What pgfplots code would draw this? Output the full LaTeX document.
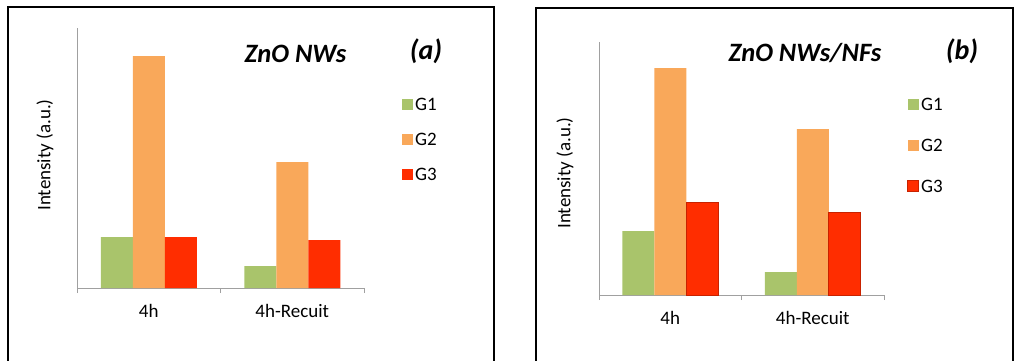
\documentclass[border=0pt]{standalone}
\usepackage{pgfplots}
\pgfplotsset{compat=1.18}
\usepackage{fontspec}
\setmainfont{Carlito}
\definecolor{cG1}{HTML}{A9C46B}
\definecolor{cG2}{HTML}{F9A85A}
\definecolor{cG3}{HTML}{FF2D00}
\definecolor{cG3d}{HTML}{C82200}
\definecolor{axgray}{HTML}{A0A0A0}
\newcommand{\lbl}{\fontsize{19}{22}\selectfont}
\newcommand{\ttl}{\fontsize{26.5}{30}\selectfont\bfseries\itshape}
\newcommand{\pnl}{\fontsize{28}{32}\selectfont\bfseries\itshape}
\pgfplotsset{
  panel/.style={
    scale only axis,
    ybar=0pt, bar width=32pt,
    xmin=-0.5, xmax=1.5, ymin=0,
    xtick={0,1}, xticklabels={4h,4h-Recuit},
    minor xtick={-0.5,0.5,1.5},
    major tick length=0pt, minor tick length=5pt,
    tick align=outside,
    axis lines*=left,
    ytick=\empty,
    axis line style={draw=axgray, line width=1pt},
    tick style={draw=axgray, line width=1pt},
    tick label style={font=\lbl},
    xticklabel style={yshift=-13pt},
    legend cell align=left,
    legend style={draw=none, fill=none, inner sep=0pt, font=\lbl,
      nodes={inner xsep=2pt, inner ysep=0pt, text height=12pt, text depth=0pt}},
    clip=false,
  },
  sq/.style={legend image code/.code={\fill[##1] (0pt,-5.5pt) rectangle (11pt,5.5pt);}},
}
\begin{document}
\begin{tikzpicture}[x=1pt,y=1pt]
\useasboundingbox (0,0) rectangle (1015,360);
% frames
\draw[line width=2pt] (8,-5) -- (8,353) -- (494,353) -- (494,-5);
\draw[line width=2pt] (536,-5) -- (536,352) -- (1013,352) -- (1013,-5);

% panel (a)
\begin{axis}[panel, at={(77pt,72pt)}, anchor=south west,
  width=287pt, height=260pt, ymax=260,
  legend style={at={(axis description cs:1.132,0.731)}, anchor=north west, row sep=23pt}]
\addplot[fill=cG1, draw=none, sq] coordinates {(0,51) (1,22)};
\addplot[fill=cG2, draw=none, sq] coordinates {(0,232) (1,126)};
\addplot[fill=cG3, draw=none, sq] coordinates {(0,51) (1,48)};
\legend{G1,G2,G3}
\end{axis}
\node[rotate=90, font=\lbl] at (45,205) {Intensity (a.u.)};
\node[font=\ttl, inner sep=0pt] at (295.5,306.5) {ZnO NWs};
\node[font=\pnl, inner sep=0pt] at (426,309) {(a)};

% panel (b)
\begin{axis}[panel, at={(599pt,65pt)}, anchor=south west,
  width=285pt, height=253pt, ymax=253,
  legend style={at={(axis description cs:1.081,0.779)}, anchor=north west, row sep=29pt}]
\addplot[fill=cG1, draw=none, sq] coordinates {(0,64) (1,23)};
\addplot[fill=cG2, draw=none, sq] coordinates {(0,227) (1,166)};
\addplot[fill=cG3, draw=cG3d, line width=0.8pt, sq] coordinates {(0,93) (1,83)};
\legend{G1,G2,G3}
\end{axis}
\node[rotate=90, font=\lbl] at (565,187) {Intensity (a.u.)};
\node[font=\ttl, inner sep=0pt] at (805,307) {ZnO NWs/NFs};
\node[font=\pnl, inner sep=0pt] at (962,309) {(b)};
\end{tikzpicture}
\end{document}
